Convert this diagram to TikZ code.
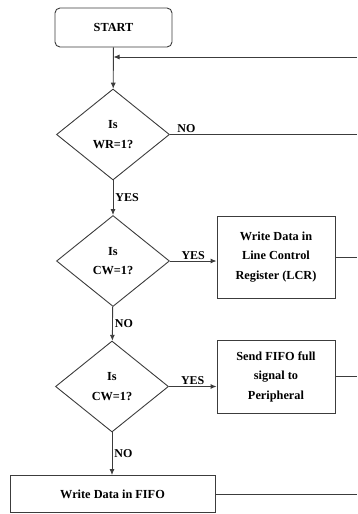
\documentclass[tikz,border=0pt]{standalone}
\usepackage{fontspec}
\setmainfont{Liberation Serif}
\usetikzlibrary{arrows.meta,positioning,shapes.geometric}
\definecolor{flowline}{RGB}{60,60,60}

\begin{document}
\begin{tikzpicture}[x=1pt,y=-1pt,
    line width=0.9pt, draw=flowline,
    txt/.style={font=\fontsize{12.3}{19.5}\selectfont\bfseries, align=center},
    termbox/.style={txt, draw, rounded corners=5pt, minimum width=117pt, minimum height=39pt},
    procbox/.style={txt, draw, minimum width=118pt},
    decide/.style={txt, draw, diamond, inner sep=0pt, minimum width=113pt, minimum height=91pt},
    lbl/.style={font=\fontsize{12}{14}\selectfont\bfseries, inner sep=1pt},
    flow/.style={-{Latex[length=6pt,width=5pt]}}]
  \useasboundingbox (0,0) rectangle (357,514);

  % boxes and decisions
  \node[termbox] (start) at (113.5,27.5) {START};
  \node[decide] (d1) at (113,134.5) {Is\\WR=1?};
  \node[decide] (d2) at (113,261) {Is\\CW=1?};
  \node[decide] (d3) at (112,386.5) {Is\\CW=1?};
  \node[procbox, minimum height=82pt] (lcr) at (276,257)
    {Write Data in\\Line Control\\Register (LCR)};
  \node[procbox, minimum height=73pt] (full) at (276,376.5)
    {Send FIFO full\\signal to\\Peripheral};
  \node[txt, draw, minimum width=205pt, minimum height=37pt] (fifo) at (112.5,494)
    {Write Data in FIFO};

  % loop back from the right edge
  \coordinate (rim) at (357,0);
  \coordinate (back) at (start.south |- 0,57);
  \draw[flow] (start) -- (d1);
  \draw[flow] (back -| rim) -- (back);

  % main flow
  \draw[flow] (d1) -- node[lbl, right=1pt] {YES} (d2);
  \draw[flow] (d2) -- node[lbl, right=1pt] {NO} (d3);
  \draw[flow] (d3) -- node[lbl, right=1pt] {NO} (fifo.north -| d3);
  \draw[flow] (d2.east) -- node[lbl, above=0pt] {YES} (d2.east -| lcr.west);
  \draw[flow] (d3.east) -- node[lbl, above=0pt] {YES} (d3.east -| full.west);
  \node[lbl, above right=0pt and 6pt] (no1) at (d1.east) {NO};

  % lines running off to the right
  \foreach \n in {d1,lcr,full,fifo} {
    \draw (\n.east) -- (\n.east -| rim);
  }
\end{tikzpicture}
\end{document}
